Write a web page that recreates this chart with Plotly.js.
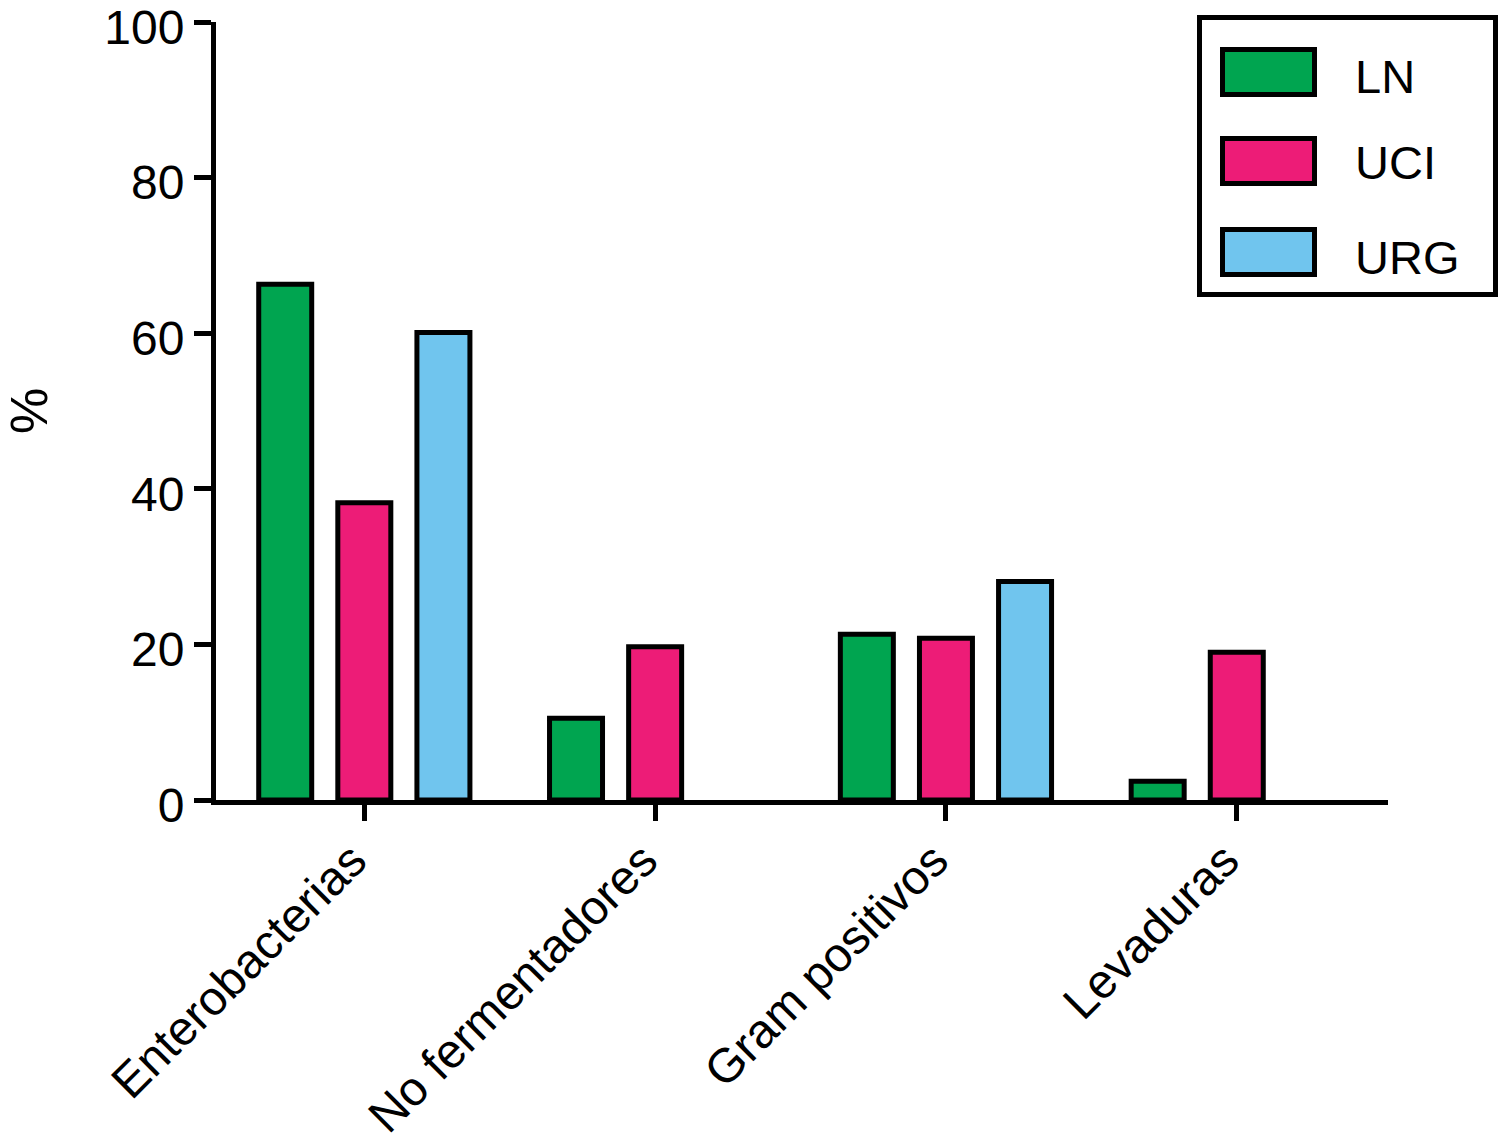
<!DOCTYPE html>
<html>
<head>
<meta charset="utf-8">
<script src="https://cdn.plot.ly/plotly-3.0.1.min.js"></script>
<style>
  html, body { margin: 0; padding: 0; background: #ffffff; }
  #chart { width: 1499px; height: 1147px; }
</style>
</head>
<body>
<div id="chart"></div>
<script>
// ---- data ----
var categories = ["Enterobacterias", "No fermentadores", "Gram positivos", "Levaduras"];
var seriesNames = ["LN", "UCI", "URG"];
var valuesLN  = [66.3, 10.5, 21.3, 2.4];
var valuesUCI = [38.2, 19.7, 20.8, 19.0];
var valuesURG = [60.1, null, 28.1, null];
var seriesColors = ["#00A550", "#ED1C77", "#70C5EE"];
var yTickValues = [0, 20, 40, 60, 80, 100];

var FONT = "Liberation Sans, Arial, Helvetica, sans-serif";
var seriesValues = [valuesLN, valuesUCI, valuesURG];

var traces = seriesNames.map(function (name, i) {
  return {
    type: "bar",
    name: name,
    x: categories,
    y: seriesValues[i],
    marker: { color: seriesColors[i], line: { color: "#000000", width: 5 } },
    showlegend: false,
    hoverinfo: "x+y+name"
  };
});

// plot area geometry in pixels (for the hand-drawn legend)
var L = 216, R = 111, T = 22, B = 347, W = 1499, H = 1147;
var pw = W - L - R, ph = H - T - B;
function px(xp) { return (xp - L) / pw; }
function py(yp) { return (H - B - yp) / ph; }

var shapes = [];
var annotations = [];
// legend frame
shapes.push({
  type: "rect", xref: "paper", yref: "paper",
  x0: px(1199.5), x1: px(1495.5), y0: py(294.5), y1: py(17.5),
  line: { color: "#000000", width: 5 }, fillcolor: "rgba(0,0,0,0)"
});
var rowCenters = [72, 161, 252];
var textCenters = [77, 162, 257];
seriesNames.forEach(function (name, i) {
  shapes.push({
    type: "rect", xref: "paper", yref: "paper",
    x0: px(1222.5), x1: px(1314.5),
    y0: py(rowCenters[i] + 22.5), y1: py(rowCenters[i] - 22.5),
    line: { color: "#000000", width: 5 }, fillcolor: seriesColors[i]
  });
  annotations.push({
    xref: "paper", yref: "paper",
    x: px(1353), y: py(textCenters[i]),
    xanchor: "left", yanchor: "middle",
    text: name, showarrow: false,
    font: { family: FONT, size: 47, color: "#000000" }
  });
});

var layout = {
  width: W, height: H,
  margin: { l: L, r: R, t: T, b: B, pad: 0 },
  paper_bgcolor: "#ffffff",
  plot_bgcolor: "#ffffff",
  barmode: "group",
  bargap: 0.184,
  bargroupgap: 0.33,
  showlegend: false,
  font: { family: FONT, color: "#000000" },
  xaxis: {
    type: "category",
    range: [-0.51, 3.52],
    showline: true, linecolor: "#000000", linewidth: 5,
    ticks: "outside", ticklen: 16, tickwidth: 5, tickcolor: "#000000",
    tickangle: -45,
    ticklabelshift: -12,
    ticklabelstandoff: -8,
    ticklabeloverflow: "allow",
    tickfont: { family: FONT, size: 48, color: "#000000" },
    showgrid: false, zeroline: false, automargin: false,
    fixedrange: true
  },
  yaxis: {
    range: [0, 100],
    tickvals: yTickValues,
    ticktext: yTickValues.map(String),
    showline: true, linecolor: "#000000", linewidth: 5,
    ticks: "outside", ticklen: 17, tickwidth: 5, tickcolor: "#000000",
    ticklabelshift: 5,
    ticklabeloverflow: "allow",
    tickfont: { family: FONT, size: 48, color: "#000000" },
    showgrid: false, zeroline: false, automargin: false,
    title: { text: "%", font: { family: FONT, size: 52, color: "#000000" }, standoff: 73 },
    fixedrange: true
  },
  shapes: shapes,
  annotations: annotations
};

Plotly.newPlot("chart", traces, layout, { displayModeBar: false, staticPlot: true });
</script>
</body>
</html>
